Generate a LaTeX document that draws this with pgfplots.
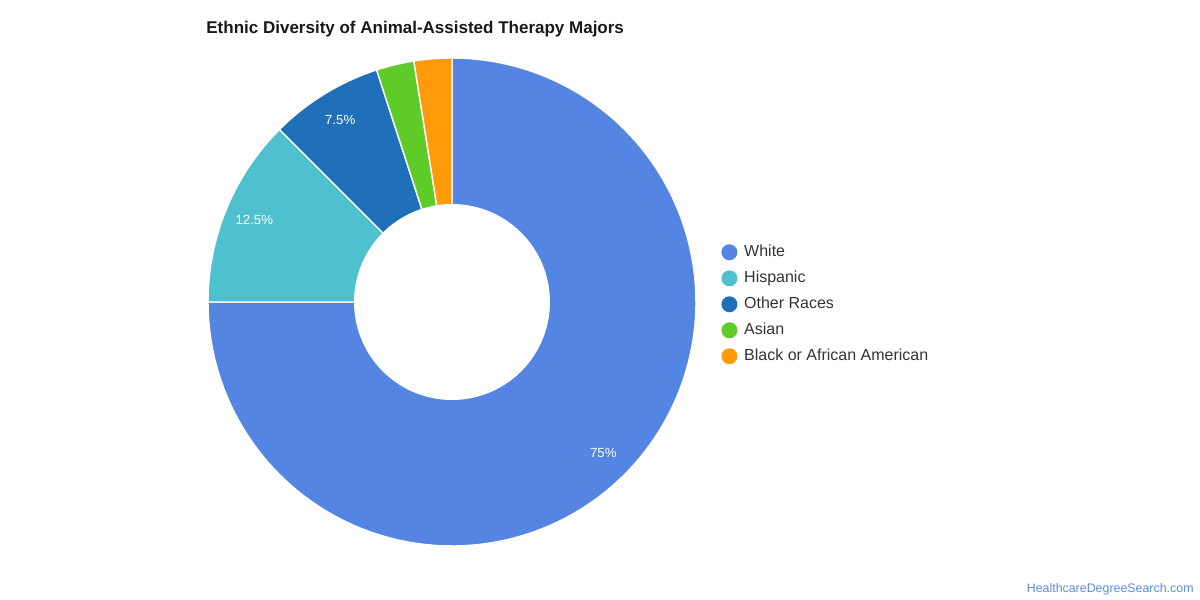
\documentclass[border=0pt]{standalone}
\usepackage{pgfplots}
\pgfplotsset{compat=1.18}
\usepackage{fontspec}
\setmainfont{Liberation Sans}
\definecolor{cWhite}{HTML}{5485E3}
\definecolor{cHisp}{HTML}{4FC1CE}
\definecolor{cOther}{HTML}{1F70B8}
\definecolor{cAsian}{HTML}{5FCB28}
\definecolor{cBlack}{HTML}{FF9A0A}
\definecolor{cMark}{HTML}{5B8DD9}
\definecolor{cText}{HTML}{333333}
% shares (percent)
\def\vWhite{75}
\def\vHisp{12.5}
\def\vOther{7.5}
\def\vAsian{2.5}
\def\vBlack{2.5}
\pgfmathsetmacro\aA{90}
\pgfmathsetmacro\aB{\aA-3.6*\vWhite}
\pgfmathsetmacro\aC{\aB-3.6*\vHisp}
\pgfmathsetmacro\aD{\aC-3.6*\vOther}
\pgfmathsetmacro\aE{\aD-3.6*\vAsian}
\pgfmathsetmacro\aF{\aE-3.6*\vBlack}
\def\cx{452}\def\cy{298}\def\R{244}\def\r{98}\def\rl{214}
\pgfmathsetmacro\mA{(\aA+\aB)/2}
\pgfmathsetmacro\mB{(\aB+\aC)/2}
\pgfmathsetmacro\mC{(\aC+\aD)/2}
\begin{document}
\begin{tikzpicture}
\begin{axis}[
  scale only axis, width=600pt, height=300pt,
  xmin=0, xmax=1200, ymin=0, ymax=600,
  hide axis, clip=false,
  legend style={at={(axis cs:721,357)}, anchor=north west, draw=none, fill=none,
    font=\fontsize{8}{9.5}\selectfont, row sep=4.1pt, inner sep=0pt,
    nodes={inner sep=0.8pt, text=cText},
    /tikz/every odd column/.append style={column sep=2.6pt}},
  legend cell align=left,
  legend image code/.code={\fill[draw=none] (0.22em,0) circle (4pt);},
]
\path (axis cs:0,0) rectangle (axis cs:1200,600);
\addplot[fill=cWhite, draw=white, line width=0.7pt, domain=\aB:\aA, samples=120, variable=\t]
  ({\cx+\R*cos(\t)},{\cy+\R*sin(\t)}) -- (axis cs:\cx,\cy) -- cycle;
\addlegendentry{White}
\addplot[fill=cHisp, draw=white, line width=0.7pt, domain=\aC:\aB, samples=30, variable=\t]
  ({\cx+\R*cos(\t)},{\cy+\R*sin(\t)}) -- (axis cs:\cx,\cy) -- cycle;
\addlegendentry{Hispanic}
\addplot[fill=cOther, draw=white, line width=0.7pt, domain=\aD:\aC, samples=20, variable=\t]
  ({\cx+\R*cos(\t)},{\cy+\R*sin(\t)}) -- (axis cs:\cx,\cy) -- cycle;
\addlegendentry{Other Races}
\addplot[fill=cAsian, draw=white, line width=0.7pt, domain=\aE:\aD, samples=10, variable=\t]
  ({\cx+\R*cos(\t)},{\cy+\R*sin(\t)}) -- (axis cs:\cx,\cy) -- cycle;
\addlegendentry{Asian}
\addplot[fill=cBlack, draw=white, line width=0.7pt, domain=\aF:\aE, samples=10, variable=\t]
  ({\cx+\R*cos(\t)},{\cy+\R*sin(\t)}) -- (axis cs:\cx,\cy) -- cycle;
\addlegendentry{Black or African American}
\addplot[forget plot, fill=white, draw=none, domain=0:360, samples=120, variable=\t]
  ({\cx+\r*cos(\t)},{\cy+\r*sin(\t)}) -- cycle;
\node[text=white, font=\fontsize{6.6}{8}\selectfont] at (axis cs:{\cx+\rl*cos(\mA)},{\cy+\rl*sin(\mA)}) {75\%};
\node[text=white, font=\fontsize{6.6}{8}\selectfont] at (axis cs:{\cx+\rl*cos(\mB)},{\cy+\rl*sin(\mB)}) {12.5\%};
\node[text=white, font=\fontsize{6.6}{8}\selectfont] at (axis cs:{\cx+\rl*cos(\mC)},{\cy+\rl*sin(\mC)}) {7.5\%};
\node[anchor=base west, inner sep=0pt, text=black!90, font=\fontsize{8.5}{10}\bfseries] at (axis cs:206,566) {Ethnic Diversity of Animal-Assisted Therapy Majors};
\node[anchor=base east, inner sep=0pt, text=cMark, font=\fontsize{6.2}{8}\selectfont] at (axis cs:1194,8) {HealthcareDegreeSearch.com};
\end{axis}
\end{tikzpicture}
\end{document}
